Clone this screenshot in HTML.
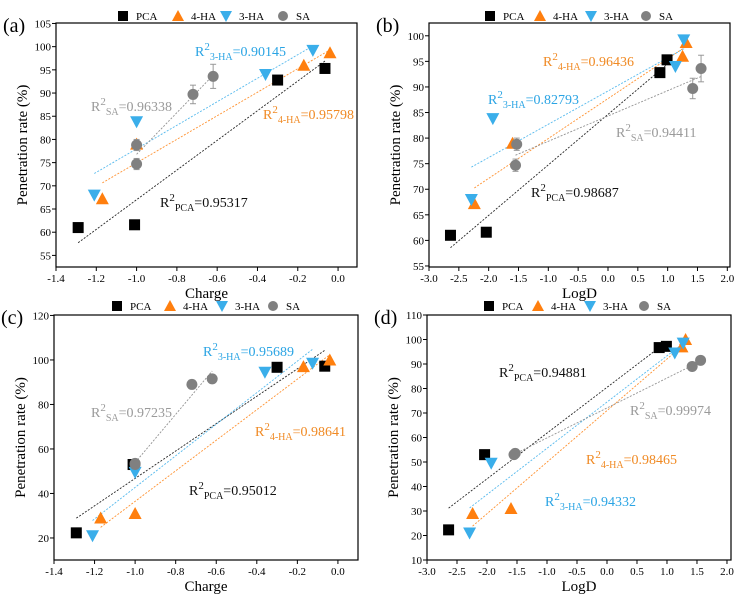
<!DOCTYPE html>
<html><head><meta charset="utf-8"><style>
html,body{margin:0;padding:0;background:#fff;}
svg{display:block;font-family:"Liberation Serif",serif;}
</style></head><body>
<svg id="chart" width="747" height="602" viewBox="0 0 747 602" xmlns="http://www.w3.org/2000/svg"></svg>
<script>
// ---- data ----
const chargePCA=[-1.29,-1.01,-0.30,-0.065];
const charge4HA=[-1.17,-1.0,-0.17,-0.04];
const charge3HA=[-1.21,-1.0,-0.36,-0.125];
const chargeSA=[-1.0,-1.0,-0.72,-0.62];
const logdPCA=[-2.64,-2.04,0.87,0.99];
const logd4HA=[-2.24,-1.6,1.25,1.31];
const logd3HA=[-2.29,-1.93,1.13,1.27];
const logdSA=[-1.55,-1.53,1.42,1.56];
const topPCA=[61,61.6,92.8,95.3];
const top4HA=[67.2,79,96,98.7];
const top3HA=[68,83.8,94,99.2];
const topSA=[74.7,78.8,89.7,93.6];
const topSAerr=[1.2,1.2,2,2.6];
const botPCA=[22.3,53,96.7,97.2];
const bot4HA=[29,31,97,100];
const bot3HA=[21,49.5,94.5,98.5];
const botSA=[53,53.5,89,91.5];
const ticksA_y=[55,60,65,70,75,80,85,90,95,100,105];
const ticksB_y=[55,60,65,70,75,80,85,90,95,100];
const ticksC_y=[20,40,60,80,100,120];
const ticksD_y=[10,20,30,40,50,60,70,80,90,100,110];
const ticksCharge=[-1.4,-1.2,-1.0,-0.8,-0.6,-0.4,-0.2,0.0];
const ticksLogD=[-3.0,-2.5,-2.0,-1.5,-1.0,-0.5,0.0,0.5,1.0,1.5,2.0];
const r2A=["0.95317","0.95798","0.90145","0.96338"];
const r2B=["0.98687","0.96436","0.82793","0.94411"];
const r2C=["0.95012","0.98641","0.95689","0.97235"];
const r2D=["0.94881","0.98465","0.94332","0.99974"];

const NS="http://www.w3.org/2000/svg";
const svg=document.getElementById('chart');
const COL={PCA:"#000",H4:"#ff7f0e",H3:"#3aaeea",SA:"#808080"};
const TXT={PCA:"#111",H4:"#f08a24",H3:"#2aa4e4",SA:"#9a9a9a"};
function mk(tag,attrs,parent){const e=document.createElementNS(NS,tag);for(const k in attrs)e.setAttribute(k,attrs[k]);(parent||svg).appendChild(e);return e;}

const panels=[
 {id:"a",l:56,t:23,r:357,b:267,xd:[-1.4,0.094],yd:[52.5,105.1],xt:ticksCharge,yt:ticksA_y,xl:"Charge",xs:[chargePCA,charge4HA,charge3HA,chargeSA],ys:[topPCA,top4HA,top3HA,topSA],err:topSAerr,ly:16,leg:[123,178,226,283],r2:r2A,
  ann:[[160,207],[263,119],[195,56],[91,111]]},
 {id:"b",l:429,t:23,r:730,b:267,xd:[-3.0,2.045],yd:[54.8,102.5],xt:ticksLogD,yt:ticksB_y,xl:"LogD",xs:[logdPCA,logd4HA,logd3HA,logdSA],ys:[topPCA,top4HA,top3HA,topSA],err:topSAerr,ly:16,leg:[490,540,591,646],r2:r2B,
  ann:[[531,197],[543,66],[488,104],[616,137]]},
 {id:"c",l:54,t:315,r:358,b:560,xd:[-1.4,0.099],yd:[10.1,120.2],xt:ticksCharge,yt:ticksC_y,xl:"Charge",xs:[chargePCA,charge4HA,charge3HA,chargeSA],ys:[botPCA,bot4HA,bot3HA,botSA],err:null,ly:306,leg:[117,170,222,273],r2:r2C,
  ann:[[189,495],[255,436],[203,356],[91,417]]},
 {id:"d",l:427,t:315,r:731,b:560,xd:[-3.0,2.067],yd:[10,110],xt:ticksLogD,yt:ticksD_y,xl:"LogD",xs:[logdPCA,logd4HA,logd3HA,logdSA],ys:[botPCA,bot4HA,bot3HA,botSA],err:null,ly:306,leg:[489,538,590,644],r2:r2D,
  ann:[[499,377],[586,464],[545,506],[630,415]]}
];
const keys=["PCA","H4","H3","SA"];
const names=["PCA","4-HA","3-HA","SA"];
const subs=["PCA","4-HA","3-HA","SA"];

function marker(k,x,y,g,s){
  s=s||5.5;
  if(k==="PCA")return mk('rect',{x:x-s,y:y-s,width:2*s,height:2*s,fill:COL.PCA},g);
  if(k==="H4")return mk('polygon',{points:`${x},${y-s-1} ${x-s-1},${y+s} ${x+s+1},${y+s}`,fill:COL.H4},g);
  if(k==="H3")return mk('polygon',{points:`${x},${y+s+1} ${x-s-1},${y-s} ${x+s+1},${y-s}`,fill:COL.H3},g);
  return mk('circle',{cx:x,cy:y,r:s,fill:COL.SA},g);
}
function fit(xs,ys){const n=xs.length;let mx=0,my=0;for(let i=0;i<n;i++){mx+=xs[i];my+=ys[i];}mx/=n;my/=n;let sxy=0,sxx=0;for(let i=0;i<n;i++){sxy+=(xs[i]-mx)*(ys[i]-my);sxx+=(xs[i]-mx)**2;}const m=sxy/sxx;return [m,my-m*mx];}

panels.forEach(p=>{
  const g=mk('g',{});
  
  
  const X=v=>p.l+(v-p.xd[0])/(p.xd[1]-p.xd[0])*(p.r-p.l);
  const Y=v=>p.b-(v-p.yd[0])/(p.yd[1]-p.yd[0])*(p.b-p.t);
  const fr=mk('rect',{x:p.l,y:p.t,width:p.r-p.l,height:p.b-p.t,fill:"none",stroke:"#000","stroke-width":1.2},g);
  
  
  p.xt.forEach(v=>{const x=X(v);mk('line',{x1:x,y1:p.b,x2:x,y2:p.b+4,stroke:"#000"},g);
    const t=mk('text',{x:x,y:p.b+15,"font-size":11,"text-anchor":"middle"},g);t.textContent=v.toFixed(1);
    });
  p.yt.forEach(v=>{const y=Y(v);mk('line',{x1:p.l-4,y1:y,x2:p.l,y2:y,stroke:"#000"},g);
    const t=mk('text',{x:p.l-5,y:y+4,"font-size":11,"text-anchor":"end"},g);t.textContent=v;
    });
  const xl=mk('text',{x:(p.l+p.r)/2,y:p.b+31,"font-size":15,"text-anchor":"middle"},g);xl.textContent=p.xl;
  
  const cy=(p.t+p.b)/2, yx=p.l-29;
  const yl=mk('text',{x:yx,y:cy,"font-size":15,"text-anchor":"middle",transform:`rotate(-90 ${yx} ${cy})`},g);yl.textContent="Penetration rate (%)";
  
  const pl=mk('text',{x:4,y:0,"font-size":20},g);pl.setAttribute('x',p.l-53);pl.setAttribute('y',p.t+9);pl.textContent="("+p.id+")";
  
  keys.forEach((k,i)=>{const xs=p.xs[i],ys=p.ys[i];const [m,c]=fit(xs,ys);const x0=Math.min(...xs),x1=Math.max(...xs);
    const ln=mk('line',{x1:X(x0),y1:Y(m*x0+c),x2:X(x1),y2:Y(m*x1+c),stroke:COL[k],"stroke-width":0.9,"stroke-dasharray":"2,1.5",opacity:0.85},g);
    });
  keys.forEach((k,i)=>{const xs=p.xs[i],ys=p.ys[i];
    xs.forEach((xv,j)=>{
      if(k==="SA"&&p.err){const e=p.err[j];mk('line',{x1:X(xv),y1:Y(ys[j]-e),x2:X(xv),y2:Y(ys[j]+e),stroke:"#999"},g);
        mk('line',{x1:X(xv)-3,y1:Y(ys[j]+e),x2:X(xv)+3,y2:Y(ys[j]+e),stroke:"#999"},g);mk('line',{x1:X(xv)-3,y1:Y(ys[j]-e),x2:X(xv)+3,y2:Y(ys[j]-e),stroke:"#999"},g);}
      const mkr=marker(k,X(xv),Y(ys[j]),g);
      });});
  keys.forEach((k,i)=>{const a=p.ann[i];
    const t=mk('text',{x:a[0],y:a[1],"font-size":14,fill:TXT[k]},g);
    
    const s1=mk('tspan',{},t);s1.textContent="R";
    const s2=mk('tspan',{dy:-6,"font-size":11},t);s2.textContent="2";
    const s3=mk('tspan',{dy:10,"font-size":10},t);s3.textContent=subs[i];
    const s4=mk('tspan',{dy:-4},t);s4.textContent="="+p.r2[i];});
  const lg=mk('g',{},g);
  
  keys.forEach((k,i)=>{const x=p.leg[i];const m=marker(k,x,p.ly,lg,5);
    
    const t=mk('text',{x:x+13,y:p.ly+4,"font-size":11},lg);t.textContent=names[i];
    });
});
</script>
</body></html>
